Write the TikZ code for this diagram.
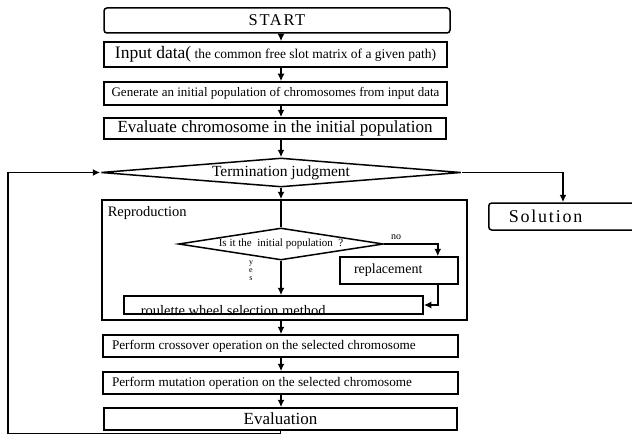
\documentclass[tikz,border=0pt]{standalone}
\usepackage{fontspec}
\setmainfont{Liberation Serif}
\usetikzlibrary{arrows.meta}
\usetikzlibrary{shapes.geometric}
\usetikzlibrary{calc}
\newcommand{\fs}[1]{\fontsize{#1}{#1}\selectfont}

\begin{document}
\begin{tikzpicture}[x=1pt, y=-1pt, line width=1.5pt, >={Latex[length=7.5pt,width=7pt]},
  box/.style={rectangle, draw, inner sep=0pt},
  rbox/.style={rectangle, draw, rounded corners=3pt, inner sep=0pt},
  dbox/.style={diamond, draw, aspect=12, inner sep=0pt}]
\useasboundingbox (0,0) rectangle (632,436);

  \node[rbox, minimum width=346pt, minimum height=25pt] (start) at (277,20.5) {\fs{16.5}\addfontfeatures{LetterSpace=10}START};
  \node[box, minimum width=343pt, minimum height=25pt] (input) at (275.5,54.5) {\fs{17.5}Input data(\fs{13.5} the common free slot matrix of a given path)};
  \node[box, minimum width=343pt, minimum height=23pt] (gen) at (275.5,93.5) {\fs{13}Generate an initial population of chromosomes from input data};
  \node[box, minimum width=342pt, minimum height=21pt] (evi) at (275,128.5) {\fs{17}Evaluate chromosome in the initial population};
  \node[dbox, minimum width=360pt, minimum height=29pt] (term) at (281,172.5) {\fs{15.5}Termination judgment};
  \node[rbox, anchor=west, minimum width=190pt, minimum height=27pt, text width=150pt, inner xsep=20pt, align=left] (sol) at (488,216.5) {\fs{18}\addfontfeatures{LetterSpace=10}Solution};

  \node[box, minimum width=365pt, minimum height=120pt] (repro) at (284.5,260) {};
  \node[anchor=north west, inner sep=0pt] (replab) at (107,206) {\fs{14.5}Reproduction};
  \node[dbox, minimum width=205pt, minimum height=32pt, aspect=6] (dia) at (281,244) {\fs{11}Is it the\ \ initial population\ \ ?};
  \node[box, minimum width=118pt, minimum height=27pt, text width=90pt, inner xsep=14pt, align=left] (rep) at (399,270.5) {\fs{14}replacement};
  \node[box, minimum width=299pt, minimum height=18pt] (roul) at (273.5,305) {};
  \node[anchor=base west, inner sep=0pt] (roultxt) at (140,315) {\fs{14.5}roulette wheel selection method};
  \node[inner sep=0pt, align=center, font=\fs{8}] (yes) at (251,271) {y\\e\\s};
  \node[inner sep=0pt] (no) at (396,237) {\fs{10}no};

  \node[box, minimum width=355pt, minimum height=22pt, text width=337pt, inner xsep=9pt, align=left] (cross) at (280.5,346) {\fs{13.2}Perform crossover operation on the selected chromosome};
  \node[box, minimum width=355pt, minimum height=22pt, text width=337pt, inner xsep=9pt, align=left] (mut) at (280.5,383) {\fs{13.2}Perform mutation operation on the selected chromosome};
  \node[box, minimum width=353pt, minimum height=22pt] (evalf) at (280.5,419) {\fs{17}Evaluation};

  \foreach \from/\to in {start/input, input/gen, gen/evi, evi/term, term/repro, repro/cross, cross/mut, mut/evalf}
   \draw[->] (\from.south -| term.north) -- (\to.north -| term.north);
  \draw (repro.north -| term.north) -- (dia.north);
  \draw[->] (dia.south) -- (roul.north -| dia.south);
  \draw[->] (dia.east) -| ($(rep.north east)+(-21,0)$);
  \draw[->] ($(rep.south east)+(-21,0)$) |- (roul.east);
  \draw[->] (term.east) -| ($(sol.north west)+(75,0)$);
  \coordinate (back) at (8,433.5);
  \draw[->] (evalf.south) |- (back) |- (term.west);
\end{tikzpicture}
\end{document}
